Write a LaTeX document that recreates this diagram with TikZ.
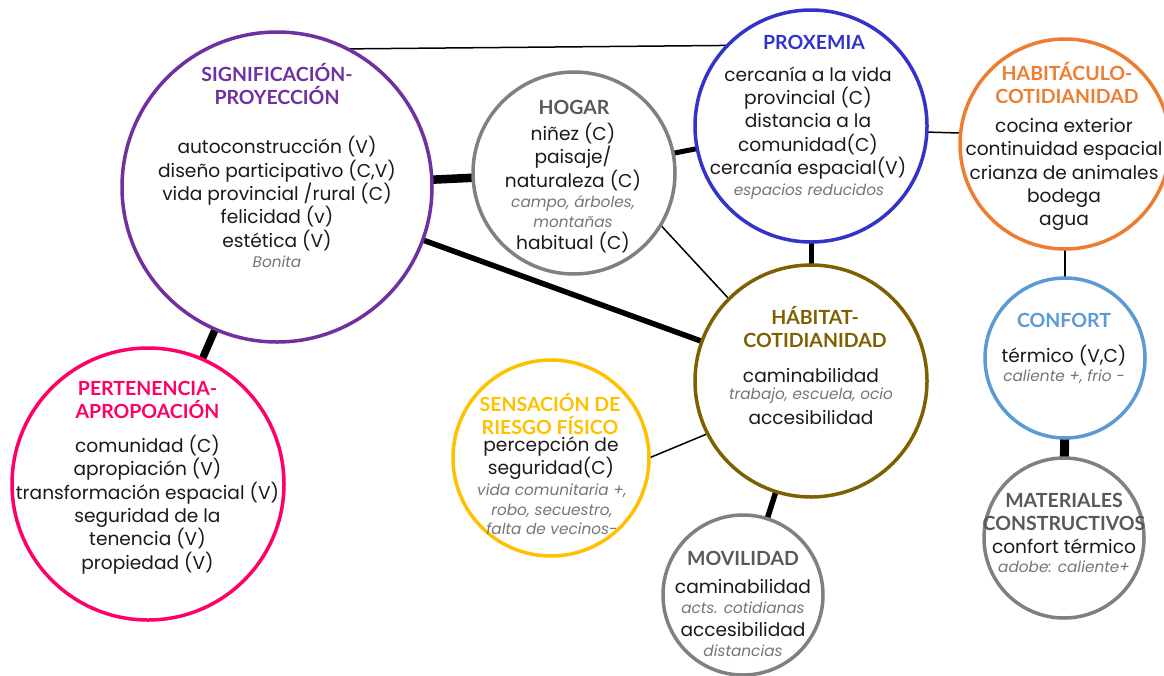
\documentclass[tikz,border=0pt]{standalone}
\usepackage{fontspec}
\setmainfont{Poppins}
\newfontfamily\titlefont{Lato}
\usetikzlibrary{backgrounds}
\definecolor{cPurple}{HTML}{7030A0}
\definecolor{cPink}{HTML}{FF0066}
\definecolor{cBlue}{HTML}{3333CC}
\definecolor{cOrange}{HTML}{ED7D31}
\definecolor{cBrown}{HTML}{7F6000}
\definecolor{cYellow}{HTML}{FFC000}
\definecolor{cLBlue}{HTML}{5B9BD5}
\definecolor{cGray}{HTML}{808080}
\definecolor{cGrayT}{HTML}{595959}
\definecolor{cNote}{HTML}{767676}
\definecolor{cText}{HTML}{1A1A1A}
\tikzset{
  circ/.style={circle, line width=3.5pt, fill=white, inner sep=0pt, outer sep=0pt},
  ttl/.style={font=\titlefont\bfseries\fontsize{19.5}{23}\selectfont, align=center, inner sep=0pt},
  body/.style={font=\fontsize{18.6}{23.3}\selectfont, align=center, inner sep=0pt, text=cText},
  note/.style={font=\itshape\fontsize{15.3}{19.5}\selectfont, align=center, inner sep=0pt, text=cNote},
  thinlink/.style={line width=1.5pt, black},
  thicklink/.style={line width=#1, black},
}
\begin{document}
\begin{tikzpicture}[x=1pt,y=-1pt]
\useasboundingbox (0,0) rectangle (1164,675);
% circles
\node[circ, draw=cPurple, minimum size=310pt] (sig) at (277,187) {};
\node[circ, draw=cGray, minimum size=202pt] (hogar) at (574,173) {};
\node[circ, draw=cBlue, minimum size=232pt] (prox) at (811,126) {};
\node[circ, draw=cOrange, minimum size=210pt] (habit) at (1065,144) {};
\node[circ, draw=cBrown, minimum size=232pt] (hab) at (811,381) {};
\node[circ, draw=cYellow, minimum size=196pt] (sens) at (551,458) {};
\node[circ, draw=cGray, minimum size=160pt] (mov) at (743,595) {};
\node[circ, draw=cLBlue, minimum size=160pt] (conf) at (1065,358) {};
\node[circ, draw=cGray, minimum size=160pt] (mat) at (1064,538) {};
\node[circ, draw=cPink, minimum size=272pt] (pert) at (148,484) {};

% texts
\node[ttl, text=cPurple] (sigT) at (277,84.5) {SIGNIFICACIÓN-\\PROYECCIÓN};
\node[body] (sigB) at (277,193.5) {autoconstrucción (V)\\diseño participativo (C,V)\\vida provincial /rural (C)\\felicidad (v)\\estética (V)};
\node[note] (sigN) at (277,262) {Bonita};

\node[ttl, text=cGrayT] (hogarT) at (574,107) {HOGAR};
\node[body] (hogarB) at (573,157) {niñez (C)\\paisaje/\\naturaleza (C)};
\node[note] (hogarN) at (573,211.5) {campo, árboles,\\montañas};
\node[body] (hogarB2) at (573,243) {habitual (C)};

\node[ttl, text=cBlue] (proxT) at (814,42) {PROXEMIA};
\node[body] (proxB) at (808,123) {cercanía a la vida\\provincial (C)\\distancia a la\\comunidad(C)\\cercanía espacial(V)};
\node[note] (proxN) at (809,192) {espacios reducidos};

\node[ttl, text=cOrange] (habitT) at (1067,83.5) {HABITÁCULO-\\COTIDIANIDAD};
\node[body] (habitB) at (1064,174.5) {cocina exterior\\continuidad espacial\\crianza de animales\\bodega\\agua};

\node[ttl, text=cBrown] (habT) at (815,326.5) {HÁBITAT-\\COTIDIANIDAD};
\node[body] (habB) at (811,375) {caminabilidad};
\node[note] (habN) at (811,396) {trabajo, escuela, ocio};
\node[body] (habB2) at (811,417) {accesibilidad};

\node[ttl, text=cYellow] (sensT) at (550,414) {SENSACIÓN DE\\RIESGO FÍSICO};
\node[body] (sensB) at (551,458) {percepción de\\seguridad(C)};
\node[note] (sensN) at (552,509.5) {vida comunitaria +,\\robo, secuestro,\\falta de vecinos-};

\node[ttl, text=cGrayT] (movT) at (743,558) {MOVILIDAD};
\node[body] (movB) at (743,586) {caminabilidad};
\node[note] (movN) at (743,608) {acts. cotidianas};
\node[body] (movB2) at (743,629) {accesibilidad};
\node[note] (movN2) at (743,651) {distancias};

\node[ttl, text=cLBlue] (confT) at (1064,320) {CONFORT};
\node[body] (confB) at (1064,356) {térmico (V,C)};
\node[note] (confN) at (1064,377) {caliente +, frio -};

\node[ttl, text=cGrayT] (matT) at (1064,511.5) {MATERIALES\\CONSTRUCTIVOS};
\node[body] (matB) at (1064,546) {confort térmico};
\node[note] (matN) at (1064,567) {adobe: caliente+};

\node[ttl, text=cPink] (pertT) at (147.5,400) {PERTENENCIA-\\APROPOACIÓN};
\node[body] (pertB) at (147.5,504.5) {comunidad (C)\\apropiación (V)\\transformación espacial (V)\\seguridad de la\\tenencia (V)\\propiedad (V)};

% connectors
\begin{scope}[on background layer]
\draw[thinlink] (sig.63) -- (prox.136);
\draw[thicklink=8.5pt] (sig) -- (hogar);
\draw[thicklink=5.5pt] (sig) -- (hab);
\draw[thicklink=7.5pt] (sig) -- (pert);
\draw[thicklink=5pt] (hogar) -- (prox);
\draw[thinlink] (hogar.-31.5) -- (hab.135);
\draw[thicklink=5pt] (prox) -- (hab);
\draw[thinlink] (prox.-3.5) -- (habit.174);
\draw[thinlink] (habit) -- (conf);
\draw[thicklink=9pt] (conf) -- (mat);
\draw[thinlink] (sens.east) -- (hab.207.7);
\draw[thicklink=5.5pt] (hab) -- (mov);
\end{scope}
\end{tikzpicture}
\end{document}
